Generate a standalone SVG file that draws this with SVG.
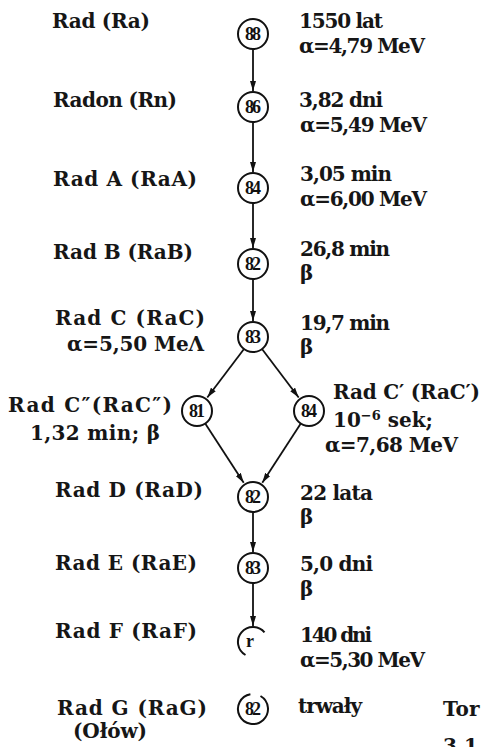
<svg xmlns="http://www.w3.org/2000/svg" width="483" height="747" viewBox="0 0 483 747">
<style>
.t{font-family:"DejaVu Serif","Liberation Serif",serif;font-weight:bold;font-size:20px;fill:#161616}
.n{font-family:"Liberation Serif","DejaVu Serif",serif;font-weight:bold;font-size:18px;fill:#111;text-anchor:middle}
.c{fill:#fff;stroke:#111;stroke-width:2}
.a{fill:none;stroke:#111;stroke-width:2}
.l{stroke:#111;stroke-width:1.8;fill:none;marker-end:url(#ah)}
</style>
<defs>
<marker id="ah" markerUnits="userSpaceOnUse" markerWidth="10" markerHeight="6" refX="10" refY="3" orient="auto">
<path d="M0,0 L10,3 L0,6 z" fill="#111"/>
</marker>
</defs>
<rect width="483" height="747" fill="#fff"/>
<g id="connectors">
<line class="l" x1="253" y1="49" x2="253" y2="91"/>
<line class="l" x1="253" y1="122" x2="253" y2="172"/>
<line class="l" x1="253" y1="203" x2="253" y2="248"/>
<line class="l" x1="253" y1="279" x2="253" y2="321"/>
<line class="l" x1="244" y1="349" x2="207.3" y2="397.5"/>
<line class="l" x1="262" y1="349" x2="298.7" y2="397.5"/>
<line class="l" x1="205.2" y1="423.6" x2="243.7" y2="482.8"/>
<line class="l" x1="300.8" y1="423.6" x2="262.3" y2="482.8"/>
<line class="l" x1="253" y1="512" x2="253" y2="552"/>
<line class="l" x1="253" y1="583" x2="253" y2="626"/>
</g>
<g id="ra">
<text class="t" x="52" y="28" textLength="98">Rad (Ra)</text>
<circle class="c" cx="253" cy="34" r="15"/><text class="n" x="253" y="40" textLength="16">88</text>
<text class="t" x="299" y="28" textLength="84">1550 lat</text>
<text class="t" x="299" y="53" textLength="126">α=4,79 MeV</text>
</g>
<g id="rn">
<text class="t" x="53" y="107" textLength="124">Radon (Rn)</text>
<circle class="c" cx="253" cy="107" r="15"/><text class="n" x="253" y="113" textLength="16">86</text>
<text class="t" x="299" y="107" textLength="84">3,82 dni</text>
<text class="t" x="300" y="132" textLength="127">α=5,49 MeV</text>
</g>
<g id="raa">
<text class="t" x="53" y="186" textLength="144">Rad A (RaA)</text>
<circle class="c" cx="253" cy="188" r="15"/><text class="n" x="253" y="194" textLength="16">84</text>
<text class="t" x="300" y="181" textLength="92">3,05 min</text>
<text class="t" x="300" y="206" textLength="127">α=6,00 MeV</text>
</g>
<g id="rab">
<text class="t" x="53" y="259" textLength="140">Rad B (RaB)</text>
<circle class="c" cx="253" cy="264" r="15"/><text class="n" x="253" y="270" textLength="16">82</text>
<text class="t" x="300" y="256" textLength="90">26,8 min</text>
<text class="t" x="300" y="280">β</text>
</g>
<g id="rac">
<text class="t" x="55" y="325" textLength="150">Rad C (RaC)</text>
<text class="t" x="67" y="351" textLength="137">α=5,50 MeΛ</text>
<circle class="c" cx="253" cy="337" r="15"/><text class="n" x="253" y="343" textLength="16">83</text>
<text class="t" x="300" y="330" textLength="90">19,7 min</text>
<text class="t" x="300" y="354">β</text>
</g>
<g id="racbis">
<text class="t" x="8" y="412" textLength="164">Rad C″(RaC″)</text>
<text class="t" x="30" y="440" textLength="130">1,32 min;  β</text>
<circle class="c" cx="197" cy="411" r="15"/><text class="n" x="197" y="417" textLength="16">81</text>
</g>
<g id="racprim">
<circle class="c" cx="309" cy="411" r="15"/><text class="n" x="309" y="417" textLength="16">84</text>
<text class="t" x="333" y="399" textLength="147">Rad C′ (RaC′)</text>
<text class="t" x="333" y="427">10<tspan font-size="13" dy="-7">−6</tspan><tspan dy="7"> sek;</tspan></text>
<text class="t" x="325" y="452" textLength="133">α=7,68 MeV</text>
</g>
<g id="rad">
<text class="t" x="55" y="497" textLength="148">Rad D (RaD)</text>
<circle class="c" cx="253" cy="497" r="15"/><text class="n" x="253" y="503" textLength="16">82</text>
<text class="t" x="300" y="500" textLength="73">22 lata</text>
<text class="t" x="300" y="524">β</text>
</g>
<g id="rae">
<text class="t" x="55" y="570" textLength="142">Rad E (RaE)</text>
<circle class="c" cx="253" cy="568" r="15"/><text class="n" x="253" y="574" textLength="16">83</text>
<text class="t" x="300" y="571" textLength="73">5,0 dni</text>
<text class="t" x="300" y="596">β</text>
</g>
<g id="raf">
<text class="t" x="55" y="638" textLength="142">Rad F (RaF)</text>
<path class="a" d="M264.5,632.4 A15,15 0 1 0 245.5,655"/>
<text class="n" x="250" y="647" font-size="14">r</text>
<text class="t" x="300" y="642" textLength="72">140 dni</text>
<text class="t" x="300" y="667" textLength="125">α=5,30 MeV</text>
</g>
<g id="rag">
<text class="t" x="57" y="715" textLength="150">Rad G (RaG)</text>
<text class="t" x="73" y="738" textLength="74">(Ołów)</text>
<path class="a" d="M260.5,696 A15,15 0 1 1 250.4,694.2"/>
<text class="n" x="253" y="715" textLength="16">82</text>
<text class="t" x="298" y="713" textLength="64">trwały</text>
</g>
<g id="tor">
<text class="t" x="443" y="716">Tor</text>
<text class="t" x="443" y="753">3,1</text>
</g>
</svg>
